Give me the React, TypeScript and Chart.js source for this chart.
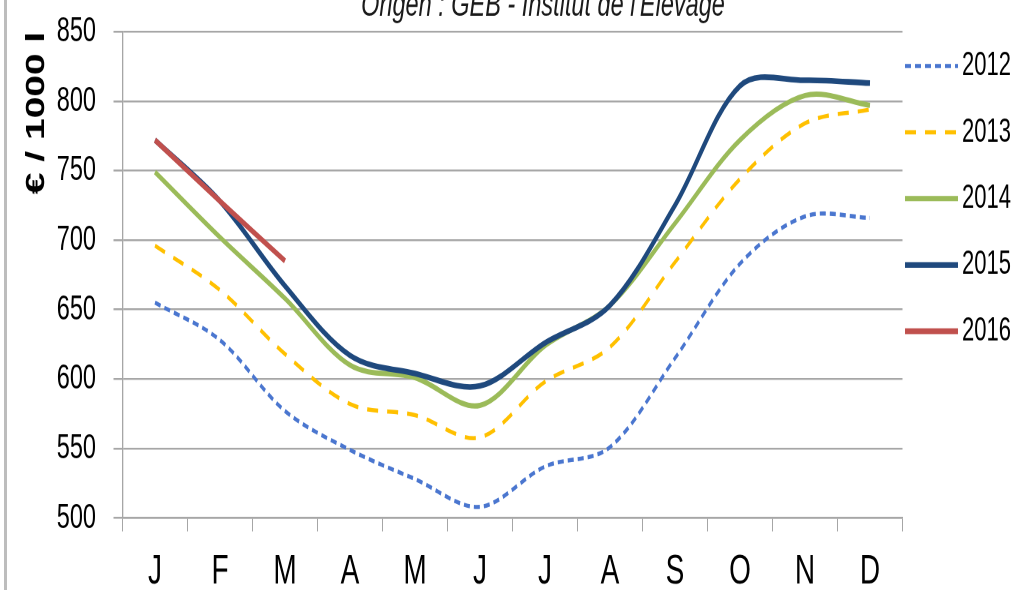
import React, { useEffect, useRef } from "react";
import { Chart, registerables } from "chart.js";

Chart.register(...registerables);

const TITLE = "Origen : GEB - Institut de l'Elevage";
const Y_TITLE = "€ / 1000 l";
const MONTHS = ["J", "F", "M", "A", "M", "J", "J", "A", "S", "O", "N", "D"];
const Y_MIN = 500;
const Y_MAX = 850;
const Y_STEP = 50;

const SERIES_NAMES = ["2012", "2013", "2014", "2015", "2016"];
const V2012 = [655, 628, 577, 549, 528, 508, 537, 551, 615, 683, 717, 716];
const V2013 = [696, 664, 618, 582, 574, 558, 598, 623, 684, 744, 784, 794];
const V2014 = [749, 702, 658, 610, 601, 581, 624, 653, 712, 772, 804, 797];
const V2015 = [772, 728, 667, 617, 604, 595, 626, 653, 725, 811, 815, 813];
const V2016 = [772, 728, 685];

const FONT = '"Liberation Sans", Arial, Helvetica, sans-serif';
const STRETCH = 1.5;
const CANVAS_W = 1017;
const CANVAS_H = 405;
const OFFSET_TOP = -18;

const decorPlugin = {
  id: "decor",
  afterDraw(chart: any) {
    const ctx = chart.ctx;
    ctx.save();
    ctx.font = `italic 23.5px ${FONT}`;
    ctx.fillStyle = "#1a1a1a";
    ctx.textAlign = "center";
    ctx.textBaseline = "alphabetic";
    ctx.fillText(TITLE, 543, 22.7);
    const ds = chart.data.datasets;
    ds.forEach((d: any, i: number) => {
      const y = 56 + 44.2 * i;
      ctx.beginPath();
      ctx.strokeStyle = d.borderColor;
      ctx.lineWidth = d.borderWidth;
      ctx.setLineDash(d.borderDash || []);
      ctx.lineCap = "butt";
      ctx.moveTo(905, y);
      ctx.lineTo(958, y);
      ctx.stroke();
      ctx.setLineDash([]);
      ctx.font = `22px ${FONT}`;
      ctx.fillStyle = "#000";
      ctx.textAlign = "left";
      ctx.textBaseline = "middle";
      ctx.fillText(d.label, 962, y);
    });
    ctx.restore();
  },
};

export default function App() {
  const ref = useRef<HTMLCanvasElement | null>(null);

  useEffect(() => {
    if (!ref.current) return;
    const chart = new Chart(ref.current, {
      type: "line",
      data: {
        labels: MONTHS,
        datasets: [
          {
            label: SERIES_NAMES[0],
            data: V2012,
            borderColor: "#4A76CF",
            borderWidth: 2.8,
            borderDash: [6, 4],
            tension: 0.33,
            pointRadius: 0,
            order: 4,
          },
          {
            label: SERIES_NAMES[1],
            data: V2013,
            borderColor: "#FFC000",
            borderWidth: 2.8,
            borderDash: [11, 9],
            tension: 0.33,
            pointRadius: 0,
            order: 3,
          },
          {
            label: SERIES_NAMES[2],
            data: V2014,
            borderColor: "#9BBB59",
            borderWidth: 3.5,
            tension: 0.33,
            pointRadius: 0,
            order: 2,
          },
          {
            label: SERIES_NAMES[3],
            data: V2015,
            borderColor: "#1F497D",
            borderWidth: 3.8,
            tension: 0.33,
            pointRadius: 0,
            order: 1,
          },
          {
            label: SERIES_NAMES[4],
            data: V2016,
            borderColor: "#C0504D",
            borderWidth: 3.8,
            tension: 0.33,
            pointRadius: 0,
            order: 0,
          },
        ],
      },
      options: {
        animation: false,
        responsive: false,
        devicePixelRatio: 2,
        layout: { padding: { top: 33.1, right: 114.5, left: 0, bottom: 0 } },
        plugins: {
          legend: { display: false },
          title: { display: false },
          tooltip: { enabled: false },
        },
        scales: {
          x: {
            type: "category",
            offset: true,
            afterFit: (s: any) => {
              s.height = 47.7;
            },
            grid: {
              offset: true,
              drawOnChartArea: false,
              drawTicks: true,
              tickLength: 9,
              color: "#A6A6A6",
              lineWidth: 1,
            },
            border: { display: true, color: "#A6A6A6", width: 1.3 },
            ticks: {
              color: "#000",
              padding: 10,
              font: { family: FONT, size: 28 },
              maxRotation: 0,
              autoSkip: false,
            },
          },
          y: {
            min: Y_MIN,
            max: Y_MAX,
            afterFit: (s: any) => {
              s.width = 122.5;
            },
            grid: {
              color: "#A6A6A6",
              lineWidth: 1.3,
              drawTicks: true,
              tickLength: 9,
            },
            border: { display: true, color: "#A6A6A6", width: 1.3 },
            ticks: {
              stepSize: Y_STEP,
              color: "#000",
              padding: 17.5,
              font: { family: FONT, size: 23.5 },
            },
            title: {
              display: true,
              text: Y_TITLE,
              align: "end",
              color: "#000",
              padding: { top: 21, bottom: 0 },
              font: { family: FONT, size: 26, weight: "bold" },
            },
          },
        },
      },
      plugins: [decorPlugin],
    });
    return () => chart.destroy();
  }, []);

  return (
    <div
      style={{
        position: "absolute",
        left: 0,
        top: 0,
        width: 1017,
        height: 590,
        overflow: "hidden",
        background: "#fff",
      }}
    >
      <div
        style={{
          position: "absolute",
          left: 4,
          top: 0,
          width: 3,
          height: 590,
          background: "#BDBDBD",
        }}
      />
      <div
        style={{
          position: "absolute",
          left: 0,
          top: OFFSET_TOP,
          width: CANVAS_W,
          height: CANVAS_H,
          transform: `scaleY(${STRETCH})`,
          transformOrigin: "0 0",
        }}
      >
        <canvas
          ref={ref}
          width={CANVAS_W}
          height={CANVAS_H}
          style={{ display: "block", width: CANVAS_W, height: CANVAS_H }}
        />
      </div>
    </div>
  );
}
